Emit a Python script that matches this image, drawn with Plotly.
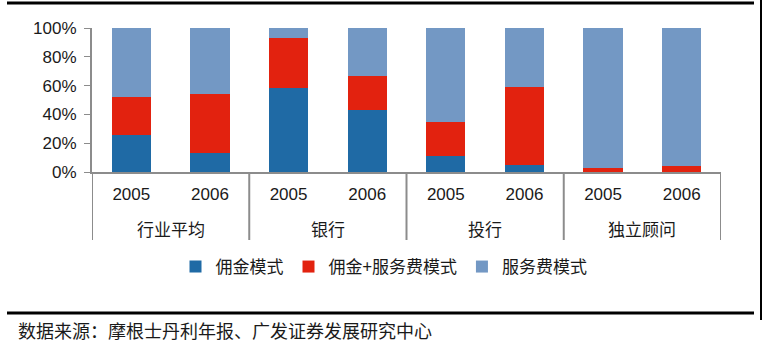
import plotly.graph_objects as go

groups = ["行业平均", "行业平均", "银行", "银行", "投行", "投行", "独立顾问", "独立顾问"]
years = ["2005", "2006", "2005", "2006", "2005", "2006", "2005", "2006"]
commission = [0.26, 0.13, 0.58, 0.43, 0.11, 0.05, 0.0, 0.0]
comm_plus_fee = [0.26, 0.41, 0.35, 0.24, 0.24, 0.54, 0.03, 0.04]
fee_only = [0.48, 0.46, 0.07, 0.33, 0.65, 0.41, 0.97, 0.96]
series_names = ["佣金模式", "佣金+服务费模式", "服务费模式"]
colors = ["#1F6AA5", "#E2220F", "#7398C4"]

W, H = 764, 351
L, R = 92, 721
T, B = 28, 172

def px(x):
    return (x - L) / (R - L)

def py(y):
    return (B - y) / (B - T)

pos = list(range(len(years)))

fig = go.Figure()
for name, vals, c in zip(series_names, [commission, comm_plus_fee, fee_only], colors):
    fig.add_trace(go.Bar(x=pos, y=vals, name=name, marker=dict(color=c, line=dict(width=0)),
                         width=0.5))

# group labels and dividers
group_names = []
for g in groups:
    if g not in group_names:
        group_names.append(g)
annotations = []
shapes = []
bounds = [-0.5]
for g in group_names:
    idx = [i for i, gg in enumerate(groups) if gg == g]
    center = (idx[0] + idx[-1]) / 2
    annotations.append(dict(text=g, xref="x", yref="paper", x=center, y=py(228),
                            xanchor="center", yanchor="middle", showarrow=False,
                            font=dict(size=17, family="Noto Sans CJK SC", color="#1a1a1a")))
    bounds.append(idx[-1] + 0.5)
for b in bounds:
    shapes.append(dict(type="line", xref="x", yref="paper", x0=b, x1=b, y0=0, y1=py(240),
                       line=dict(color="#8c8c8c", width=2)))

shapes += [
    dict(type="line", xref="paper", yref="paper", x0=px(7), x1=px(754), y0=py(3), y1=py(3),
         line=dict(color="black", width=3)),
    dict(type="line", xref="paper", yref="paper", x0=px(7), x1=px(754), y0=py(313), y1=py(313),
         line=dict(color="black", width=3)),
    dict(type="line", xref="paper", yref="paper", x0=px(761), x1=px(761), y0=py(0), y1=py(320),
         line=dict(color="black", width=2)),
]
annotations.append(dict(text="数据来源：摩根士丹利年报、广发证券发展研究中心", xref="paper", yref="paper",
                        x=px(16), y=py(330), xanchor="left", yanchor="middle", showarrow=False,
                        font=dict(size=18, family="Noto Sans CJK SC", color="#1a1a1a")))

fig.update_layout(
    barmode="stack",
    width=W, height=H,
    margin=dict(l=L, r=W - R, t=T, b=H - B),
    paper_bgcolor="white", plot_bgcolor="white",
    font=dict(family="Liberation Sans, Arial, Noto Sans CJK SC", color="#1a1a1a"),
    showlegend=True,
    legend=dict(orientation="h", x=px(384), xanchor="center", y=py(267), yanchor="middle",
                font=dict(size=17, family="Noto Sans CJK SC"), traceorder="normal",
                itemwidth=30, tracegroupgap=0),
    xaxis=dict(range=[-0.5, len(years) - 0.5], tickmode="array", tickvals=pos, ticktext=years,
               showline=True, linecolor="#8c8c8c", linewidth=2, showgrid=False, zeroline=False,
               ticks="", ticklabelstandoff=6,
               tickfont=dict(size=17, family="Liberation Sans, Arial", color="#1a1a1a")),
    yaxis=dict(range=[0, 1], dtick=0.2, tickformat=".0%", showgrid=False, zeroline=False,
               showline=True, linecolor="#8c8c8c", linewidth=2, ticks="outside", ticklen=6,
               ticklabelstandoff=4,
               tickcolor="#8c8c8c", tickfont=dict(size=17, family="Liberation Sans, Arial", color="#1a1a1a")),
    shapes=shapes,
    annotations=annotations,
)

fig.write_html("out.html")
